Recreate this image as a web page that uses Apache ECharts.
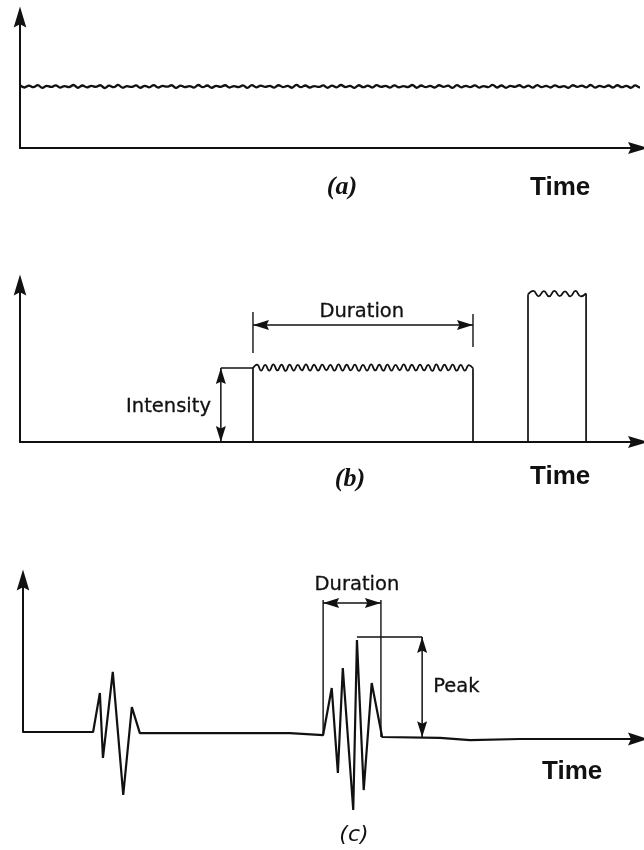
<!DOCTYPE html>
<html>
<head>
<meta charset="utf-8">
<script src="https://cdn.jsdelivr.net/npm/echarts@6/dist/echarts.min.js"></script>
<style>
  html, body { margin: 0; padding: 0; background: #ffffff; }
  #chart { width: 644px; height: 850px; }
</style>
</head>
<body>
<div id="chart"></div>
<script>
// ---------- (a) steady level: readings across the whole time span ----------
const steadySpan = [0, 101];
const steadyLevel = [
  47.9,46.2,47.6,46.4,48.0,45.9,47.5,46.6,47.8,46.1,
  47.3,46.5,48.1,46.0,47.7,46.3,47.4,46.7,47.9,45.8,
  47.6,46.4,48.2,46.1,47.2,46.6,47.8,46.0,47.5,46.3,
  48.0,46.2,47.4,46.8,47.9,45.9,47.6,46.5,47.3,46.1,
  48.1,46.4,47.7,46.0,47.5,46.6,47.9,46.2,47.2,46.4,
  47.8,45.9,48.0,46.3,47.6,46.7,47.4,46.1,47.9,46.5,
  47.5,46.0,48.2,46.4,47.7,46.2,47.3,46.6,47.8,46.0,
  47.6,46.3,48.1,46.5,47.4,45.9,47.9,46.4,47.6,46.2,
  48.0,46.6,47.5,46.1,47.8,46.3,47.2,46.5,48.1,46.0,
  47.7,46.4,47.4,46.2,47.9,46.6,47.6,45.9,48.0,46.3,
  47.5,46.5,47.8,46.1,47.3,46.4,48.2,46.2,47.7,46.0,
  47.4,46.6,47.9,46.3,47.6,46.1,48.0,46.5,47.5,46.2,
  47.8,46.4,47.3,46.0,47.9,46.6,47.6,46.3,48.1,46.1,
  47.4,46.5,47.7,46.2,47.9,46.4,47.5,46.0,47.8,46.3,
  47.2
];

// ---------- (b) two rectangular pulses ----------
const longPulseSpan = [37.7, 73.3];
const longPulseTop = [
  47.1,49.3,45.5,49.1,45.4,49.4,45.6,49.2,45.3,49.3,
  45.5,49.1,45.6,49.4,45.4,49.2,45.5,49.3,45.7,49.1,
  45.4,49.4,45.5,49.2,45.6,49.3,45.3,49.1,45.5,49.4,
  45.6,49.2,45.4,49.3,45.5,49.1,45.7,49.4,45.4,49.2,
  45.5,49.3,45.6,49.1,45.3,49.4,45.5,49.2,45.6,49.3,
  45.4,49.1,45.5,49.0,47.0
];
const shortPulseSpan = [82.2, 91.6];
const shortPulseTop = [94.0,96.2,92.8,96.1,92.7,96.3,92.9,96.0,92.7,96.2,92.8,94.6];

const bDurationArrow = [[37.7, 74.5], [73.3, 74.5]];
const bDurationGuideL = [[37.7, 82.8], [37.7, 56.7]];
const bDurationGuideR = [[73.3, 81.5], [73.3, 60.5]];
const bIntensityLeader = [[32.5, 47.1], [37.7, 47.1]];
const bIntensityArrow = [[32.5, 47.1], [32.5, 0]];
const bLabels = [['Duration', 55.3, 82.8], ['Intensity', 30.9, 22.3]];

// ---------- (c) burst trace (baseline sags slightly after the second burst) ----------
const burstTrace = [
  [0, 0], [11.4, 0],
  [12.5, 25.7], [13.0, -17.1], [14.6, 39.5], [16.3, -41.4], [17.7, 16.4], [19.0, -0.7],
  [43.4, -0.7], [48.8, -2.0],
  [50.2, 28.9], [51.2, -27.0], [52.0, 42.1], [53.7, -51.3], [54.3, 60.5], [55.4, -38.2], [56.7, 32.2], [58.4, -3.3],
  [67.8, -3.9], [72.7, -5.3], [80.8, -4.6], [100, -4.6]
];
const cDurationGuideL = [[48.8, 86.8], [48.8, -2.0]];
const cDurationGuideR = [[58.2, 86.8], [58.2, -3.3]];
const cDurationArrow = [[48.8, 84.9], [58.2, 84.9]];
const cPeakLeader = [[54.3, 62.5], [64.9, 62.5]];
const cPeakArrow = [[64.9, 62.5], [64.9, -3.5]];
const cLabels = [['Duration', 54.3, 96.7], ['Peak', 66.7, 29.6]];

// ---------- drawing helpers ----------
const INK = '#111111';
const LETTER_FONT = 'DejaVu Sans';
// solid arrowhead with a shallow notch, pointing up before rotation
const HEAD = 'path://M6 0 L12 20 L6 17 L0 20 Z';

function spread(span, values) {
  const n = values.length;
  return values.map((v, i) => [span[0] + i * (span[1] - span[0]) / (n - 1), v]);
}

function polyline(points, gi, width, smooth) {
  return {
    type: 'line', xAxisIndex: gi, yAxisIndex: gi, data: points,
    symbol: 'none', showSymbol: false, smooth: smooth || false, clip: false,
    silent: true, animation: false,
    lineStyle: { color: INK, width: width }
  };
}

// arrowhead at b, pointing away from a, tip placed on b
function headFor(a, b, len, wid) {
  const dx = b[0] - a[0], dy = b[1] - a[1];
  let rot, off;
  if (Math.abs(dx) >= Math.abs(dy)) {
    rot = dx > 0 ? -90 : 90;
    off = [dx > 0 ? -len / 2 : len / 2, 0];
  } else {
    rot = dy > 0 ? 0 : 180;
    off = [0, dy > 0 ? len / 2 : -len / 2];
  }
  return { value: b, symbol: HEAD, symbolRotate: rot, symbolSize: [wid, len], symbolOffset: off, symbolKeepAspect: false };
}

function doubleArrow(points, gi, width) {
  const s = polyline(points, gi, width);
  s.showSymbol = true;
  s.itemStyle = { color: INK, opacity: 1 };
  s.data = [headFor(points[1], points[0], 16, 10), headFor(points[0], points[1], 16, 10)];
  return s;
}

function labels(items, gi, position) {
  return {
    type: 'scatter', xAxisIndex: gi, yAxisIndex: gi, silent: true, animation: false,
    symbolSize: 0, clip: false,
    itemStyle: { opacity: 1 },
    data: items.map(it => ({ name: it[0], value: [it[1], it[2]] })),
    label: {
      show: true, position: position, formatter: p => p.name, distance: 0,
      color: '#111', fontFamily: LETTER_FONT, fontSize: 19.5,
      textBorderColor: '#111', textBorderWidth: 0.3, opacity: 1
    }
  };
}

const axisStyle = { color: INK, width: 2 };
function makeAxes(gi, showX) {
  return {
    x: {
      type: 'value', gridIndex: gi, min: 0, max: 100,
      axisLine: { show: showX, onZero: false, symbol: ['none', HEAD], symbolSize: [13, 20], lineStyle: axisStyle },
      axisTick: { show: false }, axisLabel: { show: false }, splitLine: { show: false }
    },
    y: {
      type: 'value', gridIndex: gi, min: 0, max: 100,
      axisLine: { show: true, onZero: false, symbol: ['none', HEAD], symbolSize: [13, 21], lineStyle: axisStyle },
      axisTick: { show: false }, axisLabel: { show: false }, splitLine: { show: false }
    }
  };
}

const axA = makeAxes(0, true), axB = makeAxes(1, true), axC = makeAxes(2, false);

const longTop = spread(longPulseSpan, longPulseTop);
const shortTop = spread(shortPulseSpan, shortPulseTop);

const series = [
  // (a)
  polyline(spread(steadySpan, steadyLevel), 0, 2.3, 0.4),

  // (b) pulses
  polyline([[longPulseSpan[0], 0], longTop[0]], 1, 1.7),
  polyline(longTop, 1, 1.8, 0.5),
  polyline([longTop[longTop.length - 1], [longPulseSpan[1], 0]], 1, 1.7),
  polyline([[shortPulseSpan[0], 0], shortTop[0]], 1, 1.7),
  polyline(shortTop, 1, 1.8, 0.5),
  polyline([shortTop[shortTop.length - 1], [shortPulseSpan[1], 0]], 1, 1.7),
  // (b) annotations
  polyline(bDurationGuideL, 1, 1.4),
  polyline(bDurationGuideR, 1, 1.4),
  doubleArrow(bDurationArrow, 1, 1.5),
  polyline(bIntensityLeader, 1, 1.5),
  doubleArrow(bIntensityArrow, 1, 1.5),
  labels([bLabels[0]], 1, 'inside'),
  labels([bLabels[1]], 1, 'left'),

  // (c) trace with its time-axis arrow
  (function () {
    const s = polyline(burstTrace, 2, 2.2);
    s.showSymbol = true;
    s.itemStyle = { color: INK, opacity: 1 };
    const last = burstTrace[burstTrace.length - 1];
    s.data = burstTrace.slice(0, -1).concat([{ value: last, symbol: HEAD, symbolRotate: -90, symbolSize: [13, 20] }]);
    return s;
  })(),
  polyline(cDurationGuideL, 2, 1.4),
  polyline(cDurationGuideR, 2, 1.4),
  doubleArrow(cDurationArrow, 2, 1.5),
  polyline(cPeakLeader, 2, 1.5),
  doubleArrow(cPeakArrow, 2, 1.5),
  labels([cLabels[0]], 2, 'inside'),
  labels([cLabels[1]], 2, 'right')
];

const timeFont = { fontFamily: 'Liberation Sans', fontWeight: 'bold', fontSize: 26, fill: '#111' };
const tagFont = { fontFamily: 'Liberation Serif', fontWeight: 'bold', fontStyle: 'italic', fontSize: 26, fill: '#111' };

function text(str, x, y, style, align) {
  return { type: 'text', x: x, y: y, silent: true,
    style: Object.assign({ text: str, textAlign: align || 'left', textVerticalAlign: 'middle' }, style) };
}

const chart = echarts.init(document.getElementById('chart'), null, { renderer: 'canvas' });
chart.setOption({
  backgroundColor: '#ffffff',
  animation: false,
  grid: [
    { left: 20, right: 6, top: 17, height: 131 },
    { left: 20, right: 6, top: 285, height: 157 },
    { left: 23, right: 6, top: 580, height: 152 }
  ],
  xAxis: [axA.x, axB.x, axC.x],
  yAxis: [axA.y, axB.y, axC.y],
  series: series,
  graphic: [
    text('(a)', 342, 187, tagFont, 'center'),
    text('Time', 530, 188, timeFont),
    text('(b)', 350, 479, tagFont, 'center'),
    text('Time', 530, 477, timeFont),
    text('(c)', 354, 835, { fontFamily: LETTER_FONT, fontStyle: 'italic', fontSize: 22, fill: '#111' }, 'center'),
    text('Time', 542, 772, timeFont)
  ]
});
</script>
</body>
</html>
